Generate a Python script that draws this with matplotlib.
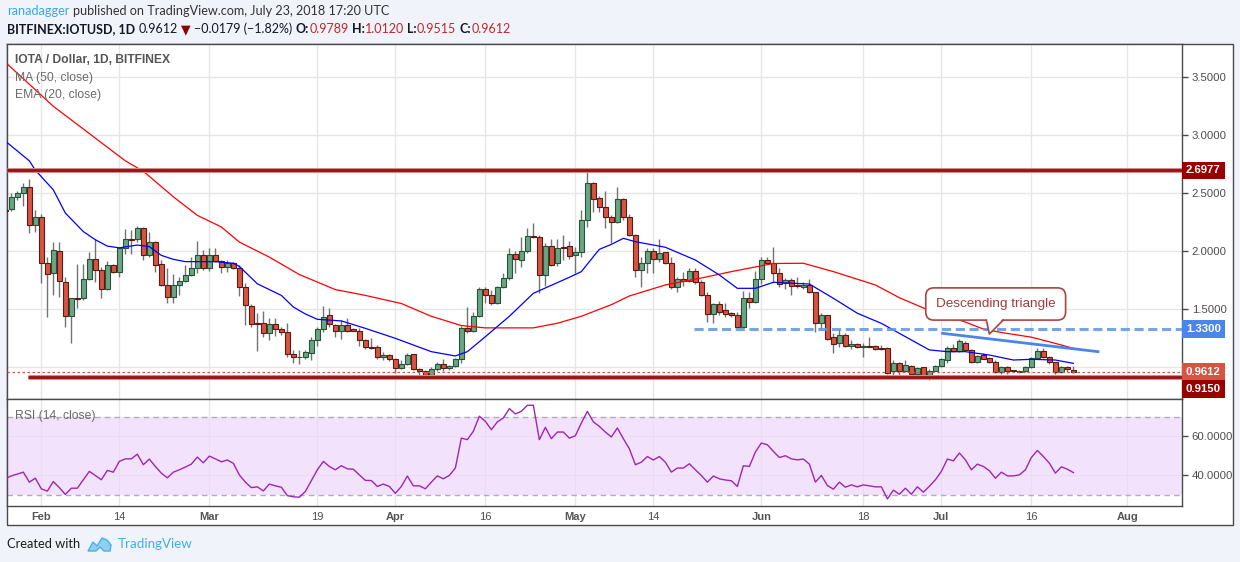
import matplotlib
matplotlib.use("Agg")
import matplotlib.pyplot as plt
import matplotlib.dates as mdates
from matplotlib.patches import Rectangle, Polygon
from matplotlib.transforms import blended_transform_factory, offset_copy
import numpy as np
from datetime import datetime, timedelta

plt.rcParams['font.family'] = ['Liberation Sans', 'DejaVu Sans']

W, H = 1240, 562
START = datetime(2018, 1, 26)

# daily candles BITFINEX:IOTUSD, Jan 26 .. Jul 23 2018
open_ = [2.36, 2.362, 2.466, 2.50, 2.557, 2.224, 2.293, 1.897, 1.810, 2.000,
         1.733, 1.440, 1.600, 1.595, 1.759, 1.931, 1.836, 1.672, 1.879, 1.819,
         2.029, 2.104, 2.104, 2.198, 1.966, 2.078, 1.888, 1.713, 1.606, 1.707,
         1.741, 1.793, 1.853, 1.966, 1.853, 1.966, 1.914, 1.862, 1.897, 1.853,
         1.690, 1.529, 1.380, 1.379, 1.293, 1.374, 1.328, 1.302, 1.112, 1.086,
         1.088, 1.126, 1.233, 1.328, 1.448, 1.362, 1.316, 1.362, 1.328, 1.316,
         1.233, 1.178, 1.175, 1.086, 1.103, 1.069, 0.991, 1.029, 1.112, 0.983,
         0.971, 0.931, 0.983, 1.026, 0.991, 1.009, 1.069, 1.342, 1.316, 1.443,
         1.672, 1.626, 1.552, 1.690, 1.767, 1.974, 1.925, 2.003, 2.132, 2.121,
         1.793, 2.043, 1.897, 2.037, 2.043, 1.966, 1.991, 2.267, 2.586, 2.457,
         2.385, 2.299, 2.256, 2.448, 2.293, 2.138, 1.836, 1.902, 2.000, 1.931,
         1.991, 1.897, 1.695, 1.759, 1.747, 1.830, 1.733, 1.621, 1.457, 1.543,
         1.491, 1.468, 1.454, 1.351, 1.595, 1.566, 1.759, 1.925, 1.897, 1.810,
         1.724, 1.750, 1.707, 1.695, 1.707, 1.646, 1.379, 1.448, 1.259, 1.207,
         1.279, 1.184, 1.198, 1.178, 1.184, 1.184, 1.164, 1.164, 0.971, 1.034,
         0.971, 1.012, 0.940, 1.000, 0.920, 0.971, 1.012, 1.063, 1.164, 1.141,
         1.212, 1.150, 1.049, 1.103, 1.083, 1.049, 0.963, 1.000, 0.970, 0.957,
         0.971, 1.000, 1.083, 1.141, 1.092, 1.043, 0.963, 1.000, 0.9789]
high = [2.40, 2.50, 2.523, 2.586, 2.621, 2.356, 2.322, 1.948, 2.081, 2.081,
        1.776, 1.595, 1.891, 1.891, 1.994, 2.109, 1.868, 1.917, 1.891, 2.034,
        2.193, 2.184, 2.218, 2.213, 2.167, 2.085, 1.925, 1.859, 1.805, 1.782,
        1.879, 1.954, 2.089, 2.012, 2.032, 2.029, 1.925, 1.925, 1.905, 1.882,
        1.730, 1.543, 1.466, 1.483, 1.422, 1.422, 1.351, 1.379, 1.147, 1.150,
        1.150, 1.264, 1.351, 1.529, 1.512, 1.371, 1.408, 1.422, 1.336, 1.336,
        1.247, 1.250, 1.190, 1.135, 1.112, 1.083, 1.063, 1.121, 1.115, 0.991,
        0.977, 1.006, 1.049, 1.069, 1.023, 1.080, 1.357, 1.523, 1.480, 1.695,
        1.695, 1.667, 1.701, 1.810, 2.029, 2.006, 2.121, 2.198, 2.247, 2.141,
        2.069, 2.104, 2.104, 2.141, 2.086, 2.034, 2.356, 2.701, 2.595, 2.477,
        2.517, 2.313, 2.557, 2.457, 2.319, 2.149, 1.954, 2.026, 2.026, 2.106,
        1.995, 1.954, 1.782, 1.825, 1.859, 1.853, 1.753, 1.652, 1.552, 1.575,
        1.552, 1.480, 1.480, 1.661, 1.652, 1.828, 1.948, 1.954, 2.034, 1.853,
        1.767, 1.767, 1.776, 1.738, 1.764, 1.650, 1.466, 1.450, 1.293, 1.328,
        1.299, 1.236, 1.213, 1.213, 1.259, 1.190, 1.190, 1.172, 1.060, 1.049,
        1.060, 1.020, 1.000, 1.005, 0.985, 1.020, 1.080, 1.180, 1.200, 1.240,
        1.225, 1.160, 1.110, 1.125, 1.090, 1.060, 1.010, 1.010, 0.980, 0.980,
        1.010, 1.090, 1.170, 1.170, 1.100, 1.050, 1.010, 1.010, 1.0120]
low = [2.33, 2.348, 2.443, 2.391, 2.161, 2.170, 1.730, 1.437, 1.624, 1.609,
       1.345, 1.207, 1.514, 1.580, 1.753, 1.738, 1.595, 1.667, 1.810, 1.776,
       1.974, 1.974, 2.083, 1.925, 1.954, 1.822, 1.701, 1.552, 1.558, 1.627,
       1.736, 1.790, 1.810, 1.839, 1.828, 1.908, 1.810, 1.825, 1.848, 1.618,
       1.365, 1.351, 1.144, 1.264, 1.236, 1.273, 1.279, 1.092, 1.040, 1.026,
       1.069, 1.063, 1.187, 1.308, 1.345, 1.264, 1.244, 1.308, 1.310, 1.187,
       1.158, 1.158, 1.069, 1.063, 1.057, 0.948, 0.983, 1.023, 0.977, 0.928,
       0.925, 0.925, 0.971, 0.971, 0.980, 1.000, 1.034, 1.293, 1.305, 1.437,
       1.552, 1.537, 1.548, 1.687, 1.753, 1.816, 1.868, 1.983, 2.118, 1.638,
       1.701, 1.874, 1.874, 1.925, 1.931, 1.810, 1.948, 2.213, 2.342, 2.342,
       2.204, 2.075, 2.241, 2.270, 2.132, 1.782, 1.695, 1.810, 1.816, 1.911,
       1.890, 1.672, 1.653, 1.701, 1.738, 1.718, 1.618, 1.394, 1.385, 1.451,
       1.437, 1.437, 1.348, 1.336, 1.514, 1.552, 1.718, 1.890, 1.738, 1.695,
       1.672, 1.624, 1.684, 1.672, 1.643, 1.308, 1.322, 1.236, 1.126, 1.172,
       1.172, 1.161, 1.167, 1.086, 1.172, 1.150, 1.150, 0.943, 0.934, 0.900,
       0.960, 0.930, 0.930, 0.915, 0.895, 0.965, 1.000, 1.040, 1.130, 1.130,
       1.140, 1.040, 1.040, 1.070, 1.040, 0.950, 0.940, 0.945, 0.960, 0.950,
       0.960, 0.990, 1.070, 1.080, 1.030, 0.940, 0.950, 0.960, 0.9515]
close = [2.35, 2.466, 2.50, 2.552, 2.224, 2.293, 1.897, 1.802, 2.012, 1.741,
         1.440, 1.595, 1.593, 1.759, 1.931, 1.836, 1.672, 1.879, 1.819, 2.029,
         2.104, 2.095, 2.198, 1.966, 2.078, 1.879, 1.713, 1.606, 1.707, 1.741,
         1.793, 1.853, 1.966, 1.853, 1.966, 1.914, 1.862, 1.897, 1.853, 1.690,
         1.534, 1.374, 1.376, 1.293, 1.374, 1.328, 1.302, 1.112, 1.086, 1.088,
         1.129, 1.233, 1.328, 1.437, 1.371, 1.316, 1.362, 1.316, 1.316, 1.233,
         1.172, 1.167, 1.086, 1.103, 1.069, 0.991, 1.029, 1.103, 0.983, 0.971,
         0.931, 0.983, 1.026, 0.991, 1.009, 1.069, 1.342, 1.316, 1.443, 1.672,
         1.626, 1.558, 1.690, 1.767, 1.974, 1.931, 2.003, 2.132, 2.121, 1.793,
         2.043, 1.885, 2.029, 2.032, 1.957, 1.991, 2.267, 2.586, 2.448, 2.385,
         2.299, 2.256, 2.448, 2.293, 2.138, 1.836, 1.897, 2.000, 1.931, 1.983,
         1.897, 1.695, 1.759, 1.747, 1.830, 1.733, 1.621, 1.463, 1.543, 1.480,
         1.463, 1.454, 1.351, 1.595, 1.566, 1.759, 1.925, 1.897, 1.810, 1.716,
         1.750, 1.698, 1.698, 1.707, 1.646, 1.379, 1.448, 1.247, 1.201, 1.279,
         1.184, 1.201, 1.172, 1.184, 1.178, 1.161, 1.155, 0.950, 1.034, 0.971,
         1.020, 0.940, 0.991, 0.920, 0.971, 1.012, 1.069, 1.164, 1.141, 1.227,
         1.150, 1.049, 1.098, 1.075, 1.049, 0.957, 1.000, 0.966, 0.968, 0.971,
         1.000, 1.083, 1.141, 1.092, 1.043, 0.963, 1.000, 0.983, 0.9612]

rsi14 = [38.3, 39.8, 40.7, 41.7, 36.6, 38.6, 33.2, 32.0, 36.9, 33.8,
         30.3, 33.5, 33.5, 37.8, 42.1, 40.0, 37.8, 42.6, 41.7, 47.2,
         48.5, 48.5, 50.9, 45.5, 48.4, 44.6, 41.2, 38.8, 41.7, 42.9,
         44.3, 45.8, 49.4, 46.5, 49.9, 48.5, 47.0, 47.9, 46.2, 40.3,
         36.6, 33.8, 34.2, 32.1, 35.6, 34.7, 34.0, 29.7, 29.1, 28.9,
         31.8, 37.3, 42.9, 47.2, 44.6, 42.9, 45.0, 43.4, 43.2, 40.3,
         37.5, 37.4, 34.4, 35.6, 34.4, 30.9, 34.4, 39.7, 34.7, 34.7,
         33.2, 36.6, 39.8, 38.3, 40.0, 43.8, 59.1, 58.3, 62.6, 70.3,
         67.7, 63.4, 67.4, 69.4, 74.2, 71.5, 72.8, 75.9, 75.9, 58.3,
         64.6, 58.8, 62.2, 62.2, 59.1, 60.3, 66.8, 72.8, 67.4, 65.1,
         62.2, 59.7, 64.3, 58.8, 53.7, 45.5, 46.8, 49.7, 47.9, 49.7,
         46.8, 41.7, 43.8, 43.8, 46.0, 42.9, 40.0, 36.6, 39.7, 38.3,
         37.7, 37.3, 34.4, 45.0, 44.6, 52.0, 56.6, 55.7, 52.3, 49.2,
         50.1, 48.5, 48.0, 48.4, 45.8, 36.6, 40.0, 34.9, 33.0, 36.6,
         34.0, 35.2, 34.2, 35.2, 34.7, 34.2, 34.2, 28.0, 32.5, 30.4,
         33.5, 30.4, 34.2, 31.5, 34.5, 37.8, 42.1, 48.4, 47.5, 51.5,
         48.0, 42.9, 45.8, 44.6, 42.4, 38.6, 41.7, 39.8, 39.8, 40.3,
         42.9, 49.2, 52.8, 49.7, 46.3, 41.2, 44.4, 43.2, 41.5]

# moving averages (index = days after Jan 26)
ma50_idx = [0, 8, 20, 23, 28, 32, 36, 39, 44, 49, 55, 60, 66, 71, 76, 80, 88,
            92, 96, 101, 104, 110, 116, 121, 126, 128, 133, 138, 145, 149, 154,
            157, 160, 163, 166, 171, 174, 178]
ma50_val = [3.63, 3.25, 2.78, 2.69, 2.47, 2.31, 2.21, 2.08, 1.95, 1.80, 1.67,
            1.62, 1.55, 1.44, 1.36, 1.34, 1.34, 1.38, 1.44, 1.54, 1.615, 1.71,
            1.77, 1.825, 1.875, 1.895, 1.897, 1.825, 1.71, 1.60, 1.49, 1.44,
            1.39, 1.33, 1.30, 1.26, 1.22, 1.164]
ema20_idx = [0, 4, 5, 8, 10, 13, 15, 17, 19, 22, 24, 26, 28, 30, 35, 38, 39,
             42, 46, 48, 50, 52, 56, 60, 65, 71, 75, 77, 80, 84, 88, 94, 96,
             98, 99, 101, 103, 105, 110, 115, 119, 122, 125, 128, 134, 138,
             142, 146, 149, 154, 157, 160, 164, 168, 171, 175, 178]
ema20_val = [2.95, 2.78, 2.70, 2.53, 2.33, 2.17, 2.10, 2.045, 2.03, 2.054,
             2.04, 1.965, 1.931, 1.911, 1.911, 1.897, 1.87, 1.72, 1.62, 1.52,
             1.46, 1.414, 1.40, 1.336, 1.25, 1.135, 1.098, 1.135, 1.264, 1.44,
             1.638, 1.776, 1.825, 1.954, 2.017, 2.06, 2.112, 2.083, 2.035,
             1.925, 1.796, 1.681, 1.681, 1.733, 1.718, 1.595, 1.466, 1.379,
             1.293, 1.15, 1.135, 1.135, 1.106, 1.063, 1.069, 1.063, 1.034]

resistance = 2.6977
support = 0.9150
triangle_base = 1.33
last_price = 0.9612
tick_days = [datetime(2018, 2, 1), datetime(2018, 2, 14), datetime(2018, 3, 1),
             datetime(2018, 3, 19), datetime(2018, 4, 1), datetime(2018, 4, 16),
             datetime(2018, 5, 1), datetime(2018, 5, 14), datetime(2018, 6, 1),
             datetime(2018, 6, 18), datetime(2018, 7, 1), datetime(2018, 7, 16),
             datetime(2018, 8, 1)]
tick_text = ['Feb', '14', 'Mar', '19', 'Apr', '16', 'May', '14', 'Jun', '18',
             'Jul', '16', 'Aug']

UP, UP_EDGE = '#6ba583', '#225437'
DN, DN_EDGE = '#d75442', '#5b1a13'
WICK = '#737375'
GRID = '#e6e6e6'
FRAME = '#4a4a4a'
TXT = '#4d4d4d'


def fx(px):
    return px / W


def fy(py):
    return 1 - py / H


fig = plt.figure(figsize=(W / 100, H / 100), dpi=100, facecolor='#f0f3fa')
fig.patches.append(Rectangle((fx(7), fy(525)), fx(1233) - fx(7), fy(44) - fy(525),
                             transform=fig.transFigure, facecolor='white',
                             edgecolor=FRAME, lw=1, zorder=-5))

ax = fig.add_axes([fx(7), fy(399), fx(1182) - fx(7), fy(44) - fy(399)])
ax_rsi = fig.add_axes([fx(7), fy(506), fx(1182) - fx(7), fy(399) - fy(506)], sharex=ax)

x0 = mdates.date2num(START)
x = x0 + np.arange(len(close))
o, h, l, c = (np.array(v) for v in (open_, high, low, close))
xmin, xmax = x0 + 0.28, x0 + 196.1

# candles
ax.vlines(x, l, h, color=WICK, lw=1, zorder=2)
up = c >= o
lo = np.minimum(o, c)
hgt = np.maximum(np.abs(c - o), 0.006)
ax.bar(x[up], hgt[up], bottom=lo[up], width=0.78, color=UP, edgecolor=UP_EDGE, lw=0.8, zorder=3)
ax.bar(x[~up], hgt[~up], bottom=lo[~up], width=0.78, color=DN, edgecolor=DN_EDGE, lw=0.8, zorder=3)

ax.plot(x0 + np.array(ma50_idx), ma50_val, color='#ff0000', lw=0.9, zorder=4)
ax.plot(x0 + np.array(ema20_idx), ema20_val, color='#0000ff', lw=0.9, zorder=4)

# drawings
for lw, col in ((3.6, '#d48a8a'), (2.0, '#9a0f0f')):
    ax.hlines(resistance, xmin, xmax, color=col, lw=lw, zorder=5)
    ax.hlines(support, x0 + 3.8, xmax, color=col, lw=lw, zorder=5)
ax.hlines(triangle_base, x0 + 114.8, xmax, color='#5d95e6', lw=2.2,
          linestyles=(0, (3, 1.5)), alpha=0.85, zorder=5)
ax.axhline(last_price, color='#d75442', lw=0.9, ls=(0, (2, 2)), zorder=5)
ax.plot([x0 + 156.2, x0 + 182.1], [1.293, 1.135], color='#4a86e8', lw=2, zorder=6)

ax.set_xlim(xmin, xmax)
ax.set_ylim(0.727, 3.787)
ax.set_yticks([1.0, 1.5, 2.0, 2.5, 3.0, 3.5])
ax.set_yticklabels(['', '1.5000', '2.0000', '2.5000', '3.0000', '3.5000'])

ax_rsi.axhspan(30, 70, color='#eed9fb', alpha=0.75, lw=0, zorder=1)
for lvl in (30, 70):
    ax_rsi.axhline(lvl, color='#b5a9bd', lw=1, ls=(0, (4, 3)), zorder=1.5)
ax_rsi.plot(x, rsi14, color='#9c27b0', lw=1, zorder=3)
ax_rsi.set_ylim(24.4, 79.1)
ax_rsi.set_yticks([40, 60])
ax_rsi.set_yticklabels(['40.0000', '60.0000'])

for a in (ax, ax_rsi):
    a.set_facecolor('white')
    a.set_axisbelow(True)
    a.grid(True, color=GRID, lw=1)
    a.yaxis.tick_right()
    a.tick_params(axis='y', direction='out', length=4, width=1, color=FRAME,
                  labelsize=8.2, labelcolor=TXT, pad=3)
    for s in a.spines.values():
        s.set_color(FRAME)
        s.set_linewidth(1)

ax_rsi.set_xticks(mdates.date2num(tick_days))
ax_rsi.set_xticklabels(tick_text)
ax.tick_params(axis='x', length=0, labelbottom=False)
ax_rsi.tick_params(axis='x', length=0, labelsize=8.0, labelcolor=TXT, pad=4)
for lab in ax_rsi.get_xticklabels():
    if not lab.get_text().isdigit():
        lab.set_fontweight('bold')
        lab.set_color('#555555')

# price labels on the axis
blend = blended_transform_factory(ax.transAxes, ax.transData)
for val, col, dy in ((resistance, '#990000', 0), (triangle_base, '#4a86e8', 0),
                     (last_price, '#d75442', 0), (support, '#990000', -12)):
    ax.text(1.0, val, f'{val:.4f}', transform=offset_copy(blend, fig=fig, x=4, y=dy, units='dots'),
            ha='left', va='center', color='white', fontweight='bold', fontsize=8.2,
            bbox=dict(boxstyle='square,pad=0.33', fc=col, ec='none'), clip_on=False, zorder=10)

# legends inside panels
fig.text(fx(15), fy(60), 'IOTA / Dollar, 1D, BITFINEX', fontsize=8.7, fontweight='bold',
         color='#555555', va='center')
fig.text(fx(15), fy(78), 'MA (50, close)', fontsize=8.7, color='#6b6b6b', va='center')
fig.text(fx(15), fy(95), 'EMA (20, close)', fontsize=8.7, color='#6b6b6b', va='center')
fig.text(fx(15), fy(416), 'RSI (14, close)', fontsize=8.7, color='#6b6b6b', va='center')

# callout
call = ax.text(x0 + 165.05, 1.546, 'Descending triangle', fontsize=9.7, color='#a33a3a',
               ha='center', va='center', zorder=8,
               bbox=dict(boxstyle='round,pad=0.75,rounding_size=0.6', fc='white',
                         ec='#a94442', lw=1.2))
fig.canvas.draw()
r = fig.canvas.get_renderer()
bb = call.get_bbox_patch().get_window_extent(r)
inv = ax.transData.inverted()
by = inv.transform((0, bb.y0))[1]
by_in = inv.transform((0, bb.y0 + 2))[1]
tip = (x0 + 164.0, 1.287)
bx0, bx1 = x0 + 163.5, x0 + 166.3
ax.add_patch(Polygon([(bx0, by_in), tip, (bx1, by_in)], closed=True, fc='white', ec='none', zorder=9))
ax.plot([bx0, tip[0], bx1], [by, tip[1], by], color='#a94442', lw=1.2, zorder=9)


# header rows, with coloured pieces placed one after another
def text_row(parts, x_px, y_px, size, family):
    gap = 0.27 * size * 100 / 72
    xx = x_px
    for s, col, wt, space in parts:
        t = fig.text(fx(xx), fy(y_px), s, fontsize=size, color=col, fontweight=wt,
                     family=family, va='center', ha='left')
        xx += t.get_window_extent(r).width + (gap if space else 0)
    return xx


HDR = ['Lato', 'DejaVu Sans']
text_row([('ranadagger', '#3ba6e0', 'normal', True),
          ('published on TradingView.com, July 23, 2018 17:20 UTC', '#333333', 'normal', False)],
         7, 11, 9.05, HDR)
RED = '#c0282d'
text_row([('BITFINEX:IOTUSD, 1D', '#131722', 'bold', True),
          ('0.9612', '#131722', 'normal', True),
          ('▼', '#8b0000', 'normal', True),
          ('−0.0179 (−1.82%)', '#131722', 'normal', True),
          ('O:', '#131722', 'bold', False), ('0.9789', RED, 'normal', True),
          ('H:', '#131722', 'bold', False), ('1.0120', RED, 'normal', True),
          ('L:', '#131722', 'bold', False), ('0.9515', RED, 'normal', True),
          ('C:', '#131722', 'bold', False), ('0.9612', RED, 'normal', False)],
         7, 29, 9.0, HDR)

# footer
text_row([('Created with', '#1c1c1c', 'normal', False)], 7, 544, 9.3, HDR)
logo = [(88, 551), (93, 542), (97, 546), (102, 538), (107, 540), (111, 545), (110, 551),
        (104, 551), (100, 547), (96, 551)]
fig.patches.append(Polygon([(fx(px), fy(py)) for px, py in logo], closed=True,
                           transform=fig.transFigure, fc='#8fd0f0', ec='#49b1e3', lw=1))
text_row([('TradingView', '#3fb0e6', 'normal', False)], 118, 544, 9.6, HDR)

fig.savefig('out.png', dpi=100, facecolor=fig.get_facecolor())
